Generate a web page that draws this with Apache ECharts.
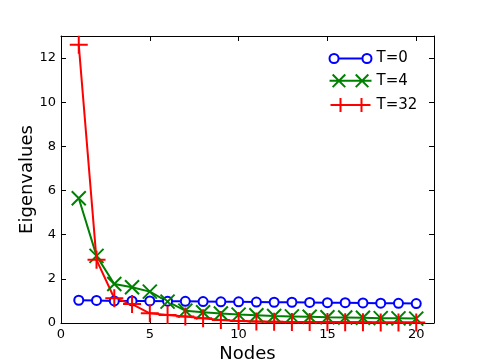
<!DOCTYPE html>
<html>
<head>
<meta charset="utf-8">
<script src="https://cdn.jsdelivr.net/npm/echarts@6/dist/echarts.min.js"></script>
<style>html,body{margin:0;padding:0;background:#fff}#c{width:482px;height:361px}</style>
</head>
<body>
<div id="c"></div>
<script>
var nodes = [1,2,3,4,5,6,7,8,9,10,11,12,13,14,15,16,17,18,19,20];
var t0 = [1.03,1.02,1.0,1.0,1.0,0.99,0.98,0.97,0.96,0.96,0.95,0.94,0.94,0.93,0.92,0.92,0.91,0.9,0.89,0.88];
var t4 = [5.65,3.04,1.77,1.62,1.42,0.97,0.56,0.49,0.43,0.38,0.35,0.32,0.3,0.28,0.26,0.25,0.24,0.22,0.21,0.2];
var t32 = [12.6,2.86,1.12,0.86,0.44,0.36,0.29,0.21,0.14,0.09,0.07,0.06,0.05,0.04,0.04,0.03,0.03,0.02,0.02,0.02];
var xTicks = [0,5,10,15,20];
var yTicks = [0,2,4,6,8,10,12];
var seriesNames = ['T=0','T=4','T=32'];

function pairs(v){ return nodes.map(function(n,i){ return [n, v[i]]; }); }
var font = 'DejaVu Sans';
var xMarker = 'path://M0 0 L10 10 M0 10 L10 0';
var plusMarker = 'path://M0 5 L10 5 M5 0 L5 10';

var chart = echarts.init(document.getElementById('c'), null, {renderer:'canvas'});
function axisBase(pos, ticks, showLabel){
  return {
    type:'value', position:pos,
    axisLine:{show:true, onZero:false, lineStyle:{color:'#000', width:1}},
    axisTick:{show:true, inside:true, length:5, customValues:ticks, lineStyle:{color:'#000'}},
    axisLabel:{show:showLabel, customValues:ticks, color:'#000', fontSize:13, fontFamily:font, margin:5},
    splitLine:{show:false}
  };
}
var xa0 = axisBase('bottom', xTicks, true);
xa0.min = 0; xa0.max = 21; xa0.name = 'Nodes'; xa0.nameLocation = 'middle'; xa0.nameGap = 22;
xa0.nameMoveOverlap = false;
xa0.nameTextStyle = {fontSize:18, fontFamily:font, color:'#000'};
var xa1 = axisBase('top', xTicks, false); xa1.min = 0; xa1.max = 21;
var ya0 = axisBase('left', yTicks, true);
ya0.min = 0; ya0.max = 13; ya0.name = 'Eigenvalues'; ya0.nameLocation = 'middle'; ya0.nameGap = 25;
ya0.nameMoveOverlap = false;
ya0.nameTextStyle = {fontSize:18, fontFamily:font, color:'#000'};
var ya1 = axisBase('right', yTicks, false); ya1.min = 0; ya1.max = 13;

chart.setOption({
  animation:false,
  backgroundColor:'#fff',
  grid:{left:61, right:48, top:36, bottom:38, containLabel:false, outerBoundsMode:'none'},
  xAxis:[xa0, xa1],
  yAxis:[ya0, ya1],
  legend:{
    orient:'vertical', left:327, top:51, itemWidth:42, itemHeight:14, itemGap:6, padding:0,
    textStyle:{fontSize:15, fontFamily:font, color:'#000', lineHeight:14},
    data:[
      {name:seriesNames[0], icon:'path://M0 5 A4 4 0 1 0 8 5 A4 4 0 1 0 0 5 M8 5 L29 5 M29 5 A4 4 0 1 0 37 5 A4 4 0 1 0 29 5',
       itemStyle:{color:'#fff', borderColor:'#0000ff', borderWidth:2}},
      {name:seriesNames[1], icon:'path://M3 0 L15 12 M3 12 L15 0 M0 6 L40 6 M25 0 L37 12 M25 12 L37 0',
       itemStyle:{color:'none', borderColor:'#008000', borderWidth:2}},
      {name:seriesNames[2], icon:'path://M0 7 L40 7 M10 0 L10 14 M31 0 L31 14',
       itemStyle:{color:'none', borderColor:'#ff0000', borderWidth:2}}
    ]
  },
  series:[
    {name:seriesNames[0], type:'line', data:pairs(t0), symbol:'emptyCircle', symbolSize:9,
     lineStyle:{color:'#0000ff', width:2}, itemStyle:{color:'#0000ff', borderColor:'#0000ff', borderWidth:2}},
    {name:seriesNames[1], type:'line', data:pairs(t4), symbol:xMarker, symbolSize:14,
     lineStyle:{color:'#008000', width:2}, itemStyle:{color:'#008000', borderColor:'#008000', borderWidth:2}},
    {name:seriesNames[2], type:'line', data:pairs(t32), symbol:plusMarker, symbolSize:18,
     lineStyle:{color:'#ff0000', width:2}, itemStyle:{color:'#ff0000', borderColor:'#ff0000', borderWidth:2}}
  ]
});
</script>
</body>
</html>
